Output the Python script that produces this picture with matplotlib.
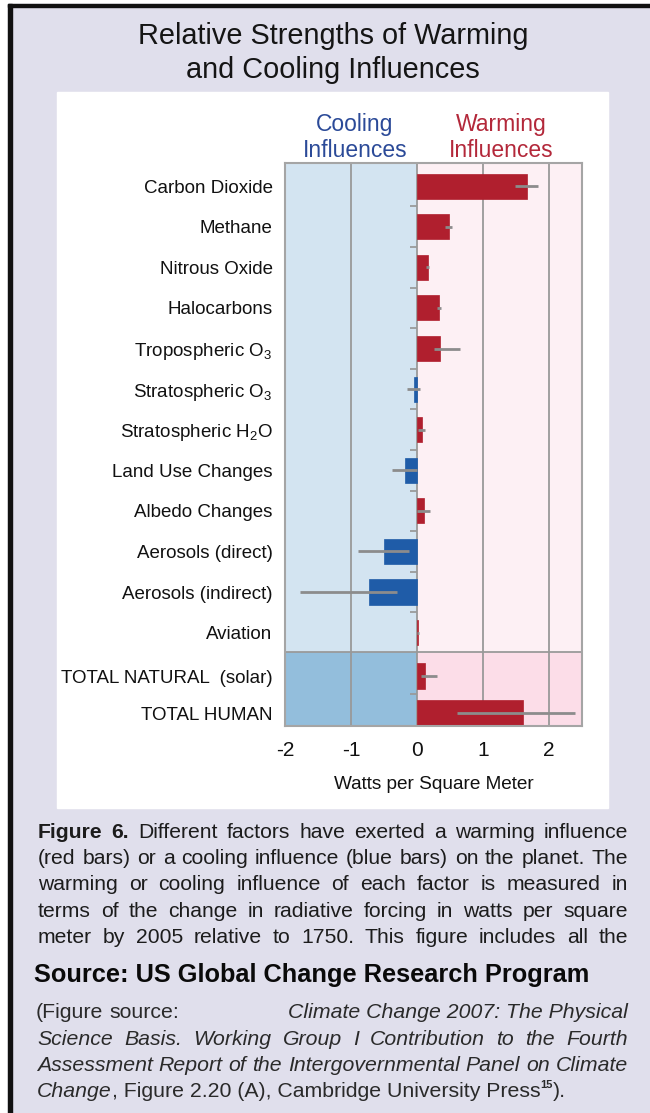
import numpy as np
import matplotlib
matplotlib.use("Agg")
from matplotlib import pyplot as plt
from matplotlib.patches import Rectangle

plt.rcParams['font.family'] = ['Liberation Sans', 'DejaVu Sans']
plt.rcParams['mathtext.fontset'] = 'custom'
plt.rcParams['mathtext.rm'] = 'Liberation Sans'
plt.rcParams['mathtext.it'] = 'Liberation Sans:italic'

# radiative forcing 1750 -> 2005, W/m^2
factors = ["Carbon Dioxide", "Methane", "Nitrous Oxide", "Halocarbons",
           "Tropospheric O$_3$", "Stratospheric O$_3$", "Stratospheric H$_2$O",
           "Land Use Changes", "Albedo Changes", "Aerosols (direct)",
           "Aerosols (indirect)", "Aviation",
           "TOTAL NATURAL  (solar)", "TOTAL HUMAN"]
forcing = [1.66, 0.48, 0.16, 0.34, 0.35, -0.05, 0.07, -0.18, 0.10, -0.50, -0.72, 0.01, 0.12, 1.60]
err_low = [1.49, 0.43, 0.14, 0.31, 0.25, -0.15, 0.02, -0.38, 0.00, -0.90, -1.78, 0.003, 0.06, 0.60]
err_high = [1.83, 0.53, 0.18, 0.37, 0.65, 0.05, 0.12, 0.00, 0.20, -0.12, -0.30, 0.03, 0.30, 2.40]
xticks = [-2, -1, 0, 1, 2]

W, H = 650, 1113
RED = '#b01f2e'
BLUE = '#1f5ca8'
GREY = '#8c8c8c'

fig = plt.figure(figsize=(W / 100, H / 100), dpi=100)
fig.patch.set_facecolor('white')


def fx(x):
    return x / W


def fy(y):
    return 1 - y / H


def box(x0, y0, x1, y1, color):
    fig.patches.append(Rectangle((fx(x0), fy(y1)), (x1 - x0) / W, (y1 - y0) / H,
                                 transform=fig.transFigure, color=color, zorder=-10))


# page frame
box(8, 4, W, H, '#e0dfec')
box(8, 4, W, 7, '#111111')
box(8, 4, 12, H, '#111111')
box(57, 92, 608, 808, 'white')

fig.text(fx(333), fy(44), "Relative Strengths of Warming", ha='center', va='baseline',
         fontsize=20.8, color='#151515')
fig.text(fx(333), fy(78), "and Cooling Influences", ha='center', va='baseline',
         fontsize=20.8, color='#151515')

fig.text(fx(355), fy(131), "Cooling", ha='center', va='baseline', fontsize=16.5, color='#2b4a98')
fig.text(fx(355), fy(157), "Influences", ha='center', va='baseline', fontsize=16.5, color='#2b4a98')
fig.text(fx(501), fy(131), "Warming", ha='center', va='baseline', fontsize=16.5, color='#b3283a')
fig.text(fx(501), fy(157), "Influences", ha='center', va='baseline', fontsize=16.5, color='#b3283a')

# chart
ax_l, ax_r, ax_t, ax_b = 285, 582, 163, 726
ax = fig.add_axes([fx(ax_l), fy(ax_b), (ax_r - ax_l) / W, (ax_b - ax_t) / H])
ypos = list(range(12)) + [12.07, 12.98]
split = 11.48
ax.set_xlim(-2, 2.5)
ax.set_ylim(13.3, -0.57)

ax.axvspan(-2, 0, color='#d3e4f1', zorder=0)
ax.axvspan(0, 2.5, color='#fdf0f4', zorder=0)
ax.fill_between([-2, 0], split, 13.3, color='#93bedc', zorder=0.5, lw=0)
ax.fill_between([0, 2.5], split, 13.3, color='#fcdde8', zorder=0.5, lw=0)
ax.axhline(split, color='#9a9a9a', lw=1.3, zorder=1)
for x in xticks:
    ax.axvline(x, color='#999999', lw=1.3, zorder=1)

colors = [RED if v > 0 else BLUE for v in forcing]
ax.barh(ypos, forcing, height=0.62, color=colors, edgecolor=colors, lw=0.5, zorder=2)
lo = np.array(forcing) - np.array(err_low)
hi = np.array(err_high) - np.array(forcing)
ax.errorbar(forcing, ypos, xerr=[lo, hi], fmt='none', ecolor=GREY, elinewidth=2,
            capsize=0, zorder=3)
# small row separators along the zero line
ax.hlines([y + 0.5 for y in range(11)] + [12.52], -0.11, 0, color='#9a9a9a', lw=1.3, zorder=1)

ax.set_yticks(ypos, factors)
ax.set_xticks(xticks, [str(t) for t in xticks])
ax.tick_params(axis='y', length=0, pad=9, labelsize=13.5, labelcolor='#111111')
ax.tick_params(axis='x', length=0, pad=11, labelsize=15, labelcolor='#111111')
ax.set_xlabel("Watts per Square Meter", fontsize=13.7, color='#111111', labelpad=11)
for s in ax.spines.values():
    s.set_color('#a5a5a5')
    s.set_linewidth(1.5)

# caption
renderer = fig.canvas.get_renderer()


def draw_line(tokens, y, x0, x1=None, size=15.2, color='#1c1c1c'):
    placed = []
    widths = []
    for tok in tokens:
        segs = []
        w = 0
        for seg in tok:
            txt, kw = seg[0], seg[1]
            t = fig.text(0, 0, txt, ha='left', va='baseline', color=color,
                         fontsize=kw.get('size', size),
                         fontweight=kw.get('weight', 'normal'),
                         fontstyle=kw.get('style', 'normal'))
            bw = t.get_window_extent(renderer).width
            segs.append((t, w, kw.get('dy', 0)))
            w += bw
        placed.append(segs)
        widths.append(w)
    if x1 is None or len(tokens) < 2:
        gap = size * 0.278 * 100 / 72
    else:
        gap = (x1 - x0 - sum(widths)) / (len(tokens) - 1)
    x = x0
    for segs, w in zip(placed, widths):
        for t, off, dy in segs:
            t.set_position((fx(x + off), fy(y + dy)))
        x += w + gap


def words(line, **kw):
    return [[(w, kw)] for w in line.split()]


B = {'weight': 'bold'}
I = {'style': 'italic'}
N = {}

cap = [
    [[("Figure", B)], [("6.", B)]] + words("Different factors have exerted a warming influence"),
    words("(red bars) or a cooling influence (blue bars) on the planet. The"),
    words("warming or cooling influence of each factor is measured in"),
    words("terms of the change in radiative forcing in watts per square"),
    words("meter by 2005 relative to 1750. This figure includes all the"),
]
for i, toks in enumerate(cap):
    draw_line(toks, 838 + 26.2 * i, 38, 628)

fig.text(fx(34), fy(982), "Source: US Global Change Research Program", ha='left',
         va='baseline', fontsize=18.3, fontweight='bold', color='#0a0a0a')

ref_color = '#2a2a2a'
rs = 15.3
draw_line(words("(Figure source:"), 1018, 36, size=rs, color=ref_color)
fig.text(fx(628), fy(1018), "Climate Change 2007: The Physical", ha='right', va='baseline',
         fontsize=rs, fontstyle='italic', color=ref_color)
draw_line(words("Science Basis. Working Group I Contribution to the Fourth", **I), 1045, 37, 628,
          size=rs, color=ref_color)
draw_line(words("Assessment Report of the Intergovernmental Panel on Climate", **I), 1071, 37, 628,
          size=rs, color=ref_color)
draw_line([[("Change", I), (", Figure 2.20 (A), Cambridge University Press", N),
            ("15", {'size': 8, 'weight': 'bold', 'dy': -9}), (").", N)]],
          1097, 37, size=rs, color=ref_color)

fig.savefig("out.png", dpi=100)
